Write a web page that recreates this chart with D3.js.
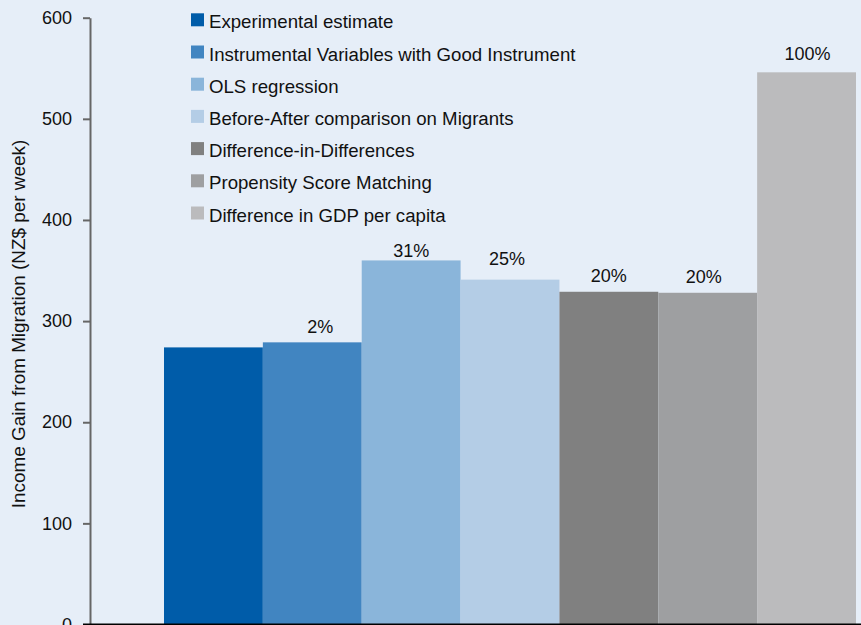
<!DOCTYPE html>
<html>
<head>
<meta charset="utf-8">
<script src="https://cdn.jsdelivr.net/npm/d3@7"></script>
<style>
  html, body { margin: 0; padding: 0; background: #e6eef8; }
  svg { display: block; font-family: "Liberation Sans", Arial, sans-serif; }
</style>
</head>
<body>
<svg id="chart" width="861" height="625"></svg>
<script>
// Income gain from migration estimated by different methods
const methods = [
  "Experimental estimate",
  "Instrumental Variables with Good Instrument",
  "OLS regression",
  "Before-After comparison on Migrants",
  "Difference-in-Differences",
  "Propensity Score Matching",
  "Difference in GDP per capita"
];
const incomeGain = [274, 279, 360, 341, 329, 328, 546];
const overstatement = ["", "2%", "31%", "25%", "20%", "20%", "100%"];
const yTicks = [0, 100, 200, 300, 400, 500, 600];
const colors = ["#005ca9", "#4185c1", "#8ab5da", "#b4cde6", "#808080", "#9e9fa1", "#bbbbbd"];
// label placement relative to each bar's top centre (px)
const labelGap = [0, 9, 3, 15, 10, 10, 12];
const labelNudge = [0, 8, 0, -3, 0, -4, 1];

const svg = d3.select("#chart");
const W = 861, H = 625;

const y = d3.scaleLinear().domain([0, 600]).range([624.5, 17.7]);
const x = d3.scaleBand().domain(methods).range([164, 856]).padding(0);

// y axis
const yAxis = d3.axisLeft(y).tickValues(yTicks).tickSize(7).tickPadding(11).tickSizeOuter(0);
const gy = svg.append("g").attr("transform", "translate(90,0)").call(yAxis);
gy.select(".domain").attr("stroke", "#666").attr("stroke-width", 2);
gy.selectAll(".tick line").attr("stroke", "#666").attr("stroke-width", 2);
gy.selectAll(".tick text").attr("font-size", 18).attr("fill", "#111")
  .attr("font-family", "Liberation Sans, Arial, sans-serif");

// y axis title
svg.append("text")
  .attr("transform", "translate(25,324) rotate(-90)")
  .attr("text-anchor", "middle")
  .attr("font-size", 18.9)
  .attr("fill", "#111")
  .text("Income Gain from Migration (NZ$ per week)");

// bars
svg.selectAll("rect.bar")
  .data(methods)
  .join("rect")
  .attr("class", "bar")
  .attr("x", d => x(d))
  .attr("width", x.bandwidth())
  .attr("y", (d, i) => y(incomeGain[i]))
  .attr("height", (d, i) => y(0) - y(incomeGain[i]))
  .attr("fill", (d, i) => colors[i]);

// baseline
svg.append("line")
  .attr("x1", 83).attr("x2", W)
  .attr("y1", y(0)).attr("y2", y(0))
  .attr("stroke", "#000").attr("stroke-width", 2);

// percentage labels
svg.selectAll("text.pct")
  .data(methods)
  .join("text")
  .attr("class", "pct")
  .attr("x", (d, i) => x(d) + x.bandwidth() / 2 + labelNudge[i])
  .attr("y", (d, i) => y(incomeGain[i]) - labelGap[i])
  .attr("text-anchor", "middle")
  .attr("font-size", 18)
  .attr("fill", "#111")
  .text((d, i) => overstatement[i]);

// legend
const legend = svg.append("g").attr("transform", "translate(191,13.3)");
const rows = legend.selectAll("g")
  .data(methods)
  .join("g")
  .attr("transform", (d, i) => `translate(0,${i * 32.2})`);
rows.append("rect")
  .attr("width", 13).attr("height", 13)
  .attr("fill", (d, i) => colors[i]);
rows.append("text")
  .attr("x", 18).attr("y", 15)
  .attr("font-size", 18.65)
  .attr("fill", "#111")
  .text(d => d);
</script>
</body>
</html>
